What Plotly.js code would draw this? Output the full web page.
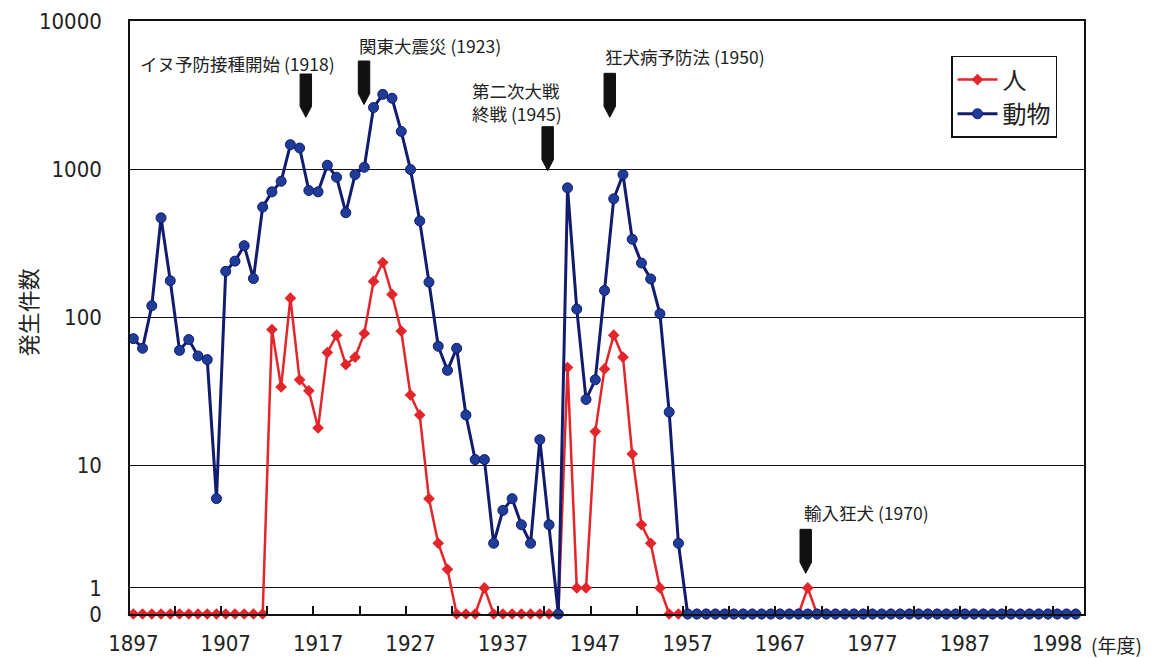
<!DOCTYPE html>
<html><head><meta charset="utf-8">
<script src="https://cdn.plot.ly/plotly-3.0.1.min.js"></script>
<style>html,body{margin:0;padding:0;background:#fff}</style>
</head><body><div id="chart" style="width:1152px;height:658px"></div>
<script>
// Years (fiscal) 1897 - 1999
const years = [
 1897,1898,1899,1900,1901,1902,1903,1904,1905,1906,1907,1908,1909,1910,1911,1912,1913,1914,1915,1916,
 1917,1918,1919,1920,1921,1922,1923,1924,1925,1926,1927,1928,1929,1930,1931,1932,1933,1934,1935,1936,
 1937,1938,1939,1940,1941,1942,1943,1944,1945,1946,1947,1948,1949,1950,1951,1952,1953,1954,1955,1956,
 1957,1958,1959,1960,1961,1962,1963,1964,1965,1966,1967,1968,1969,1970,1971,1972,1973,1974,1975,1976,
 1977,1978,1979,1980,1981,1982,1983,1984,1985,1986,1987,1988,1989,1990,1991,1992,1993,1994,1995,1996,
 1997,1998,1999];

// 人 (human cases)
const human = [
 0,0,0,0,0,0,0,0,0,0,0,0,0,0,0,83,34,135,38,32,
 18,58,76,48,54,78,175,235,143,81,30,22,6,3,2,0,0,0,1,0,
 0,0,0,0,0,0,0,46,1,1,17,45,76,54,12,4,3,1,0,0,
 0,0,0,0,0,0,0,0,0,0,0,0,0,1,0,0,0,0,0,0,
 0,0,0,0,0,0,0,0,0,0,0,0,0,0,0,0,0,0,0,0,
 0,0,0];

// 動物 (animal cases)
const animal = [
 72,62,120,470,177,60,71,55,52,6,205,240,305,183,556,704,830,1465,1390,719,
 704,1064,884,509,921,1031,2607,3200,3013,1799,995,448,173,64,44,62,22,11,11,3,
 5,6,4,3,15,4,0,749,114,28,38,152,632,921,337,233,182,106,23,3,
 0,0,0,0,0,0,0,0,0,0,0,0,0,0,0,0,0,0,0,0,
 0,0,0,0,0,0,0,0,0,0,0,0,0,0,0,0,0,0,0,0,
 0,0,0];

const seriesNames = ['人', '動物'];
const yAxisTitle = '発生件数';
const xAxisUnit = '(年度)';
const yTickValues = [0, 1, 10, 100, 1000, 10000];
const yTickLabels = ['0', '1', '10', '100', '1000', '10000'];
const xTickYears  = [1897, 1907, 1917, 1927, 1937, 1947, 1957, 1967, 1977, 1987, 1997];
const xTickLabels = ['1897', '1907', '1917', '1927', '1937', '1947', '1957', '1967', '1977', '1987', '1998'];
const eventLabels = ['イヌ予防接種開始 (1918)', '関東大震災 (1923)', '第二次大戦', '終戦 (1945)', '狂犬病予防法 (1950)', '輸入狂犬 (1970)'];

// The original chart puts 0 on the bottom edge (log 1) and 1 slightly above it.
function plotValue(v) { return v === 0 ? 1 : (v === 1 ? 1.5 : v); }

const CJK = '"Noto Sans CJK JP", "Noto Sans", sans-serif';
const NUM = '"Liberation Sans Narrow", "Arial Narrow", "DejaVu Sans Condensed", "Liberation Sans", sans-serif';

const traces = [
  {
    x: years, y: human.map(plotValue), customdata: human, name: seriesNames[0],
    type: 'scatter', mode: 'lines+markers', cliponaxis: false,
    line: {color: '#e3262b', width: 2.5},
    marker: {symbol: 'diamond', size: 9, color: '#e3262b'},
    hovertemplate: '%{x}: %{customdata}<extra>人</extra>'
  },
  {
    x: years, y: animal.map(plotValue), customdata: animal, name: seriesNames[1],
    type: 'scatter', mode: 'lines+markers', cliponaxis: false,
    line: {color: '#121c6e', width: 3},
    marker: {symbol: 'circle', size: 10, color: '#1f3c99', line: {color: '#121c6e', width: 1}},
    hovertemplate: '%{x}: %{customdata}<extra>動物</extra>'
  },
  // empty helper trace so the tick-mark axis (x2) is created
  {x: [], y: [], xaxis: 'x2', yaxis: 'y', type: 'scatter', mode: 'markers', showlegend: false, hoverinfo: 'skip'}
];

// annotation layout (text anchor positions)
const textPos = [
  {x: 1897.55, y: 0.929},
  {x: 1921.2, y: 0.9595},
  {x: 1933.45, y: 0.8835},
  {x: 1933.45, y: 0.8435},
  {x: 1947.85, y: 0.9393},
  {x: 1969.35, y: 0.172}
];
const annotations = eventLabels.map((t, i) => ({
  text: t, xref: 'x', yref: 'paper', x: textPos[i].x, y: textPos[i].y,
  xanchor: 'left', yanchor: 'middle', showarrow: false,
  font: {family: CJK, size: 17.5, color: '#222'}
}));
annotations.push({
  text: xAxisUnit, xref: 'paper', yref: 'paper', x: 1.0052, y: -0.052,
  xanchor: 'left', yanchor: 'middle', showarrow: false,
  font: {family: CJK, size: 19, color: '#222'}
});
annotations.push({
  text: yAxisTitle, xref: 'paper', yref: 'paper', x: -0.108, y: 0.509,
  xanchor: 'center', yanchor: 'middle', textangle: -90, showarrow: false,
  font: {family: CJK, size: 22, color: '#222'}
});

// black pointer markers
const pointerPos = [
  {x: 1915.67, top: 0.9106, tip: 0.8376},
  {x: 1921.97, top: 0.9325, tip: 0.8592},
  {x: 1941.85, top: 0.8218, tip: 0.7476},
  {x: 1948.57, top: 0.9118, tip: 0.8376},
  {x: 1969.78, top: 0.1428, tip: 0.0686}
];
const hw = 0.62, taper = 0.0185;
const shapes = pointerPos.map(p => ({
  type: 'path', xref: 'x', yref: 'paper',
  path: `M${p.x - hw},${p.top} L${p.x + hw},${p.top} L${p.x + hw},${p.tip + taper} L${p.x},${p.tip} L${p.x - hw},${p.tip + taper} Z`,
  fillcolor: '#111', line: {color: '#111', width: 1}
}));

const xRange = [1896.64, 1999.9];
const layout = {
  width: 1152, height: 658,
  margin: {l: 130, r: 68, t: 21, b: 44},
  paper_bgcolor: '#fff', plot_bgcolor: '#fff',
  showlegend: true,
  legend: {
    x: 0.8606, y: 0.941, xanchor: 'left', yanchor: 'top',
    bgcolor: '#fff', bordercolor: '#111', borderwidth: 1.5,
    font: {family: CJK, size: 24, color: '#222'},
    itemwidth: 40
  },
  xaxis: {
    range: xRange, tickmode: 'array', tickvals: xTickYears, ticktext: xTickLabels,
    ticks: '', showgrid: false, zeroline: false,
    showline: true, mirror: true, linecolor: '#111', linewidth: 1.5,
    tickfont: {family: NUM, size: 22, color: '#222'},
    ticklabelstandoff: 9
  },
  xaxis2: {
    range: xRange, overlaying: 'x', anchor: 'y', side: 'bottom',
    tickmode: 'linear', tick0: 1901.5, dtick: 5,
    ticks: 'inside', ticklen: 8, tickwidth: 1.5, tickcolor: '#111',
    showticklabels: false, showgrid: false, zeroline: false, showline: false
  },
  yaxis: {
    type: 'log', range: [0, 4], tickmode: 'array',
    tickvals: yTickValues.map(plotValue), ticktext: yTickLabels,
    ticks: '', showgrid: true, gridcolor: '#111', gridwidth: 1.3, zeroline: false,
    showline: true, mirror: true, linecolor: '#111', linewidth: 1.5,
    tickfont: {family: NUM, size: 22, color: '#222'},
    ticklabelstandoff: 22
  },
  annotations: annotations,
  shapes: shapes
};

Plotly.newPlot('chart', traces, layout, {displayModeBar: false, responsive: false});
</script>
</body></html>
